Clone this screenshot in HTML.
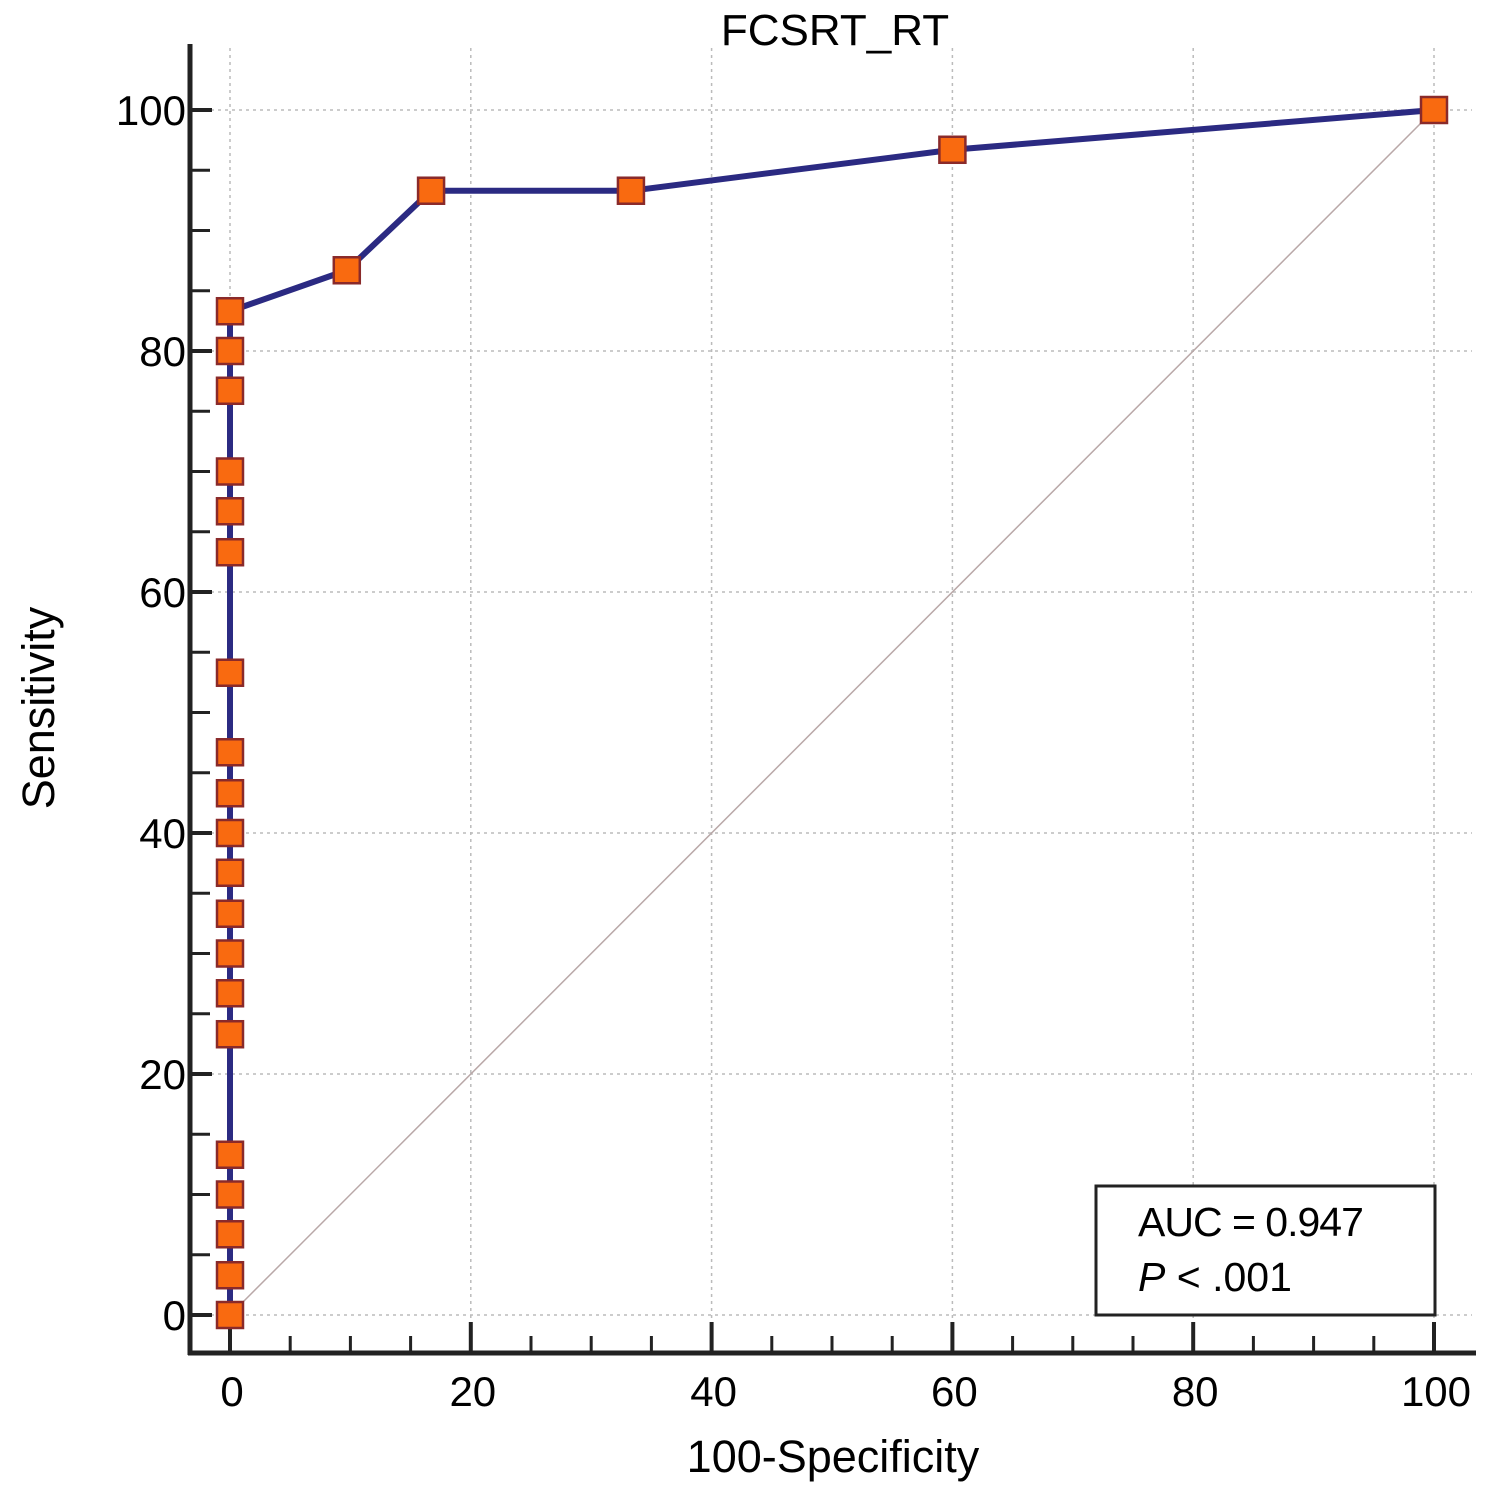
<!DOCTYPE html>
<html><head><meta charset="utf-8"><style>
html,body{margin:0;padding:0;background:#fff;}
svg{display:block;font-family:"Liberation Sans",Arial,sans-serif;}
</style></head><body>
<svg id="chart" width="1501" height="1491" viewBox="0 0 1501 1491">
<text x="835" y="45" font-size="44" text-anchor="middle">FCSRT_RT</text>
<text x="833" y="1472" font-size="45" text-anchor="middle">100-Specificity</text>
<text transform="translate(54,708) rotate(-90)" font-size="45" text-anchor="middle">Sensitivity</text>
<g id="grid"></g><g id="axes"></g><g id="series"></g>
<g>
<rect x="1096" y="1186" width="339" height="129" fill="#fff" stroke="#222" stroke-width="3"/>
<text x="1138" y="1236" font-size="41" letter-spacing="-1">AUC = 0.947</text>
<text x="1138" y="1291" font-size="41"><tspan font-style="italic">P</tspan> &lt; .001</text>
</g>
</svg>
<script>
const xVals=[0,0,0,0,0,0,0,0,0,0,0,0,0,0,0,0,0,0,0,0,9.7,16.7,33.3,60,100];
const yVals=[0,3.3,6.7,10,13.3,23.3,26.7,30,33.3,36.7,40,43.3,46.7,53.3,63.3,66.7,70,76.7,80,83.3,86.7,93.3,93.3,96.7,100];
const xTicks=[0,20,40,60,80,100];
const yTicks=[0,20,40,60,80,100];
const NS="http://www.w3.org/2000/svg";
const sx=v=>230+v*12.04, sy=v=>1315-v*12.05;
function mk(tag,attrs,parent){const e=document.createElementNS(NS,tag);for(const k in attrs)e.setAttribute(k,attrs[k]);parent.appendChild(e);return e;}
const grid=document.getElementById('grid'),axes=document.getElementById('axes'),ser=document.getElementById('series');
xTicks.forEach(t=>{
 const l=mk('line',{x1:sx(t),x2:sx(t),y1:48,y2:1352,stroke:'#bbb','stroke-width':1.5,'stroke-dasharray':'3,4'},grid);
 
 
 const tk=mk('line',{x1:sx(t),x2:sx(t),y1:1322,y2:1352,stroke:'#222','stroke-width':4},axes);
 
 
 const tx=mk('text',{x:sx(t)+2,y:1406,'font-size':42,'text-anchor':'middle'},axes);tx.textContent=t;
 
 
});
for(let t=5;t<100;t+=5){if(t%20===0)continue;
 const m=mk('line',{x1:sx(t),x2:sx(t),y1:1336,y2:1352,stroke:'#222','stroke-width':3},axes);
 
 }
yTicks.forEach(t=>{
 const l=mk('line',{x1:190,x2:1472,y1:sy(t),y2:sy(t),stroke:'#bbb','stroke-width':1.5,'stroke-dasharray':'3,4'},grid);
 
 
 const tk=mk('line',{x1:190,x2:212,y1:sy(t),y2:sy(t),stroke:'#222','stroke-width':4},axes);
 
 
 const tx=mk('text',{x:186,y:sy(t)+15,'font-size':42,'text-anchor':'end'},axes);tx.textContent=t;
 
 
});
for(let t=5;t<105;t+=5){if(t%20===0)continue;
 const m=mk('line',{x1:190,x2:210,y1:sy(t),y2:sy(t),stroke:'#222','stroke-width':3},axes);
 
 }
const ya=mk('line',{x1:190,x2:190,y1:44,y2:1355,stroke:'#222','stroke-width':5},axes);


const xa=mk('line',{x1:188,x2:1476,y1:1353,y2:1353,stroke:'#222','stroke-width':5},axes);


const d=mk('line',{x1:sx(0),y1:sy(0),x2:sx(100),y2:sy(100),stroke:'#b9a8a8','stroke-width':1.5},ser);


const pl=mk('polyline',{points:xVals.map((x,i)=>sx(x)+','+sy(yVals[i])).join(' '),fill:'none',stroke:'#2b2a82','stroke-width':6,'stroke-linejoin':'round'},ser);


xVals.forEach((x,i)=>{
 const r=mk('rect',{x:sx(x)-13,y:sy(yVals[i])-13,width:26,height:26,fill:'#f96a10',stroke:'#8a2a2a','stroke-width':2.5},ser);
 
 
});
</script>
</body></html>
